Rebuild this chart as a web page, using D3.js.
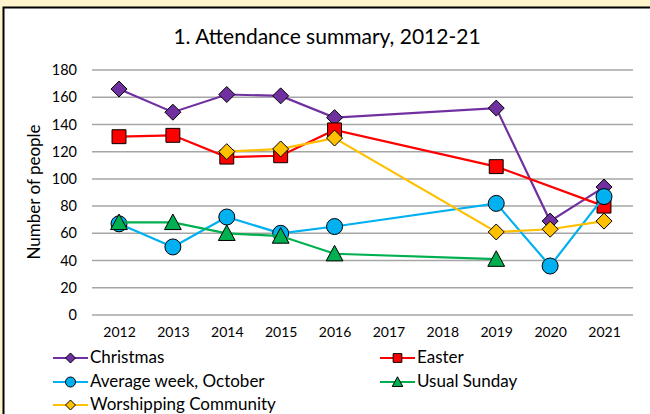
<!DOCTYPE html>
<html><head><meta charset="utf-8">
<script src="https://cdn.jsdelivr.net/npm/d3@7"></script>
<style>
html,body{margin:0;padding:0;background:#FFF4CC;}
svg{display:block;}
</style></head>
<body>
<svg id="c" width="650" height="414"></svg>
<script>
const years = ["2012","2013","2014","2015","2016","2017","2018","2019","2020","2021"];
const christmas = [166,149,162,161,145,null,null,152,69,94];
const easter = [131,132,116,117,136,null,null,109,null,80];
const averageWeek = [67,50,72,60,65,null,null,82,36,87];
const usualSunday = [68,68,60,58,45,null,null,41,null,null];
const worshipping = [null,null,120,122,130,null,null,61,63,69];
const yTicks = [0,20,40,60,80,100,120,140,160,180];
const seriesNames = ["Christmas","Easter","Average week, October","Usual Sunday","Worshipping Community"];

const series = [
  {name:seriesNames[0], values:christmas, color:"#7030A0", shape:"diamond"},
  {name:seriesNames[1], values:easter, color:"#FF0000", shape:"square"},
  {name:seriesNames[2], values:averageWeek, color:"#00B0F0", shape:"circle"},
  {name:seriesNames[3], values:usualSunday, color:"#00B050", shape:"triangle"},
  {name:seriesNames[4], values:worshipping, color:"#FFC000", shape:"diamond"}
];

const font = "Lato, 'Open Sans', sans-serif";
const svg = d3.select("#c");
svg.append("rect").attr("x",0).attr("y",0).attr("width",650).attr("height",414).attr("fill","#FFF4CC");
svg.append("rect").attr("x",3.5).attr("y",7.5).attr("width",660).attr("height",420)
  .attr("fill","#fff").attr("stroke","#000").attr("stroke-width",2);

const x = d3.scalePoint().domain(years).range([119,604]);
const y = d3.scaleLinear().domain([0,180]).range([315,70]);

svg.append("text").attr("x",327).attr("y",44).attr("text-anchor","middle")
  .attr("font-family",font).attr("font-size",21).attr("fill","#000")
  .text("1. Attendance summary, 2012-21");

// gridlines
svg.append("g").selectAll("line").data(yTicks).join("line")
  .attr("x1",92).attr("x2",633).attr("y1",d=>y(d)).attr("y2",d=>y(d))
  .attr("stroke","#A6A6A6").attr("stroke-width",1.5);

// y axis labels
const yAxis = svg.append("g").attr("transform","translate(92,0)")
  .call(d3.axisLeft(y).tickValues(yTicks).tickSize(0).tickPadding(15));
yAxis.select(".domain").remove();
yAxis.selectAll("text").attr("font-family",font).attr("font-size",14.5).attr("fill","#000");

// x axis labels
const xAxis = svg.append("g").attr("transform","translate(0,315)")
  .call(d3.axisBottom(x).tickSize(0).tickPadding(12));
xAxis.select(".domain").remove();
xAxis.selectAll("text").attr("font-family",font).attr("font-size",14).attr("fill","#000");

svg.append("text").attr("transform","translate(40,192) rotate(-90)")
  .attr("text-anchor","middle").attr("font-family",font).attr("font-size",17).attr("fill","#000")
  .text("Number of people");

function markerPath(shape, r){
  if(shape==="diamond") return `M0,${-r}L${r},0L0,${r}L${-r},0Z`;
  if(shape==="square"){ const h=r*0.87; return `M${-h},${-h}H${h}V${h}H${-h}Z`; }
  if(shape==="circle"){ const p=d3.path(); p.arc(0,0,r,0,2*Math.PI); p.closePath(); return p.toString(); }
  if(shape==="triangle"){ const h=r*1.05; return `M0,${-h}L${h},${h*0.85}L${-h},${h*0.85}Z`; }
}

const line = d3.line().x(d=>x(d.year)).y(d=>y(d.v));
series.forEach(s=>{
  const pts = years.map((yr,i)=>({year:yr, v:s.values[i]})).filter(d=>d.v!=null);
  const g = svg.append("g");
  g.append("path").attr("d",line(pts)).attr("fill","none").attr("stroke",s.color).attr("stroke-width",2.2);
  g.selectAll("path.m").data(pts).join("path").attr("class","m")
    .attr("transform",d=>`translate(${x(d.year)},${y(d.v)})`)
    .attr("d",markerPath(s.shape,8)).attr("fill",s.color).attr("stroke","#000").attr("stroke-width",1);
});

// legend
const legPos = [[53,358],[380,358],[53,382],[380,382],[53,405]];
series.forEach((s,i)=>{
  const [lx,ly] = legPos[i];
  const g = svg.append("g").attr("transform",`translate(${lx},${ly})`);
  g.append("line").attr("x1",0).attr("x2",35).attr("y1",0).attr("y2",0).attr("stroke",s.color).attr("stroke-width",2.2);
  g.append("path").attr("transform","translate(17.5,0)").attr("d",markerPath(s.shape,5))
    .attr("fill",s.color).attr("stroke","#000").attr("stroke-width",1);
  g.append("text").attr("x",37).attr("y",5).attr("font-family",font).attr("font-size",17).attr("fill","#000").text(s.name);
});
</script>
</body></html>
